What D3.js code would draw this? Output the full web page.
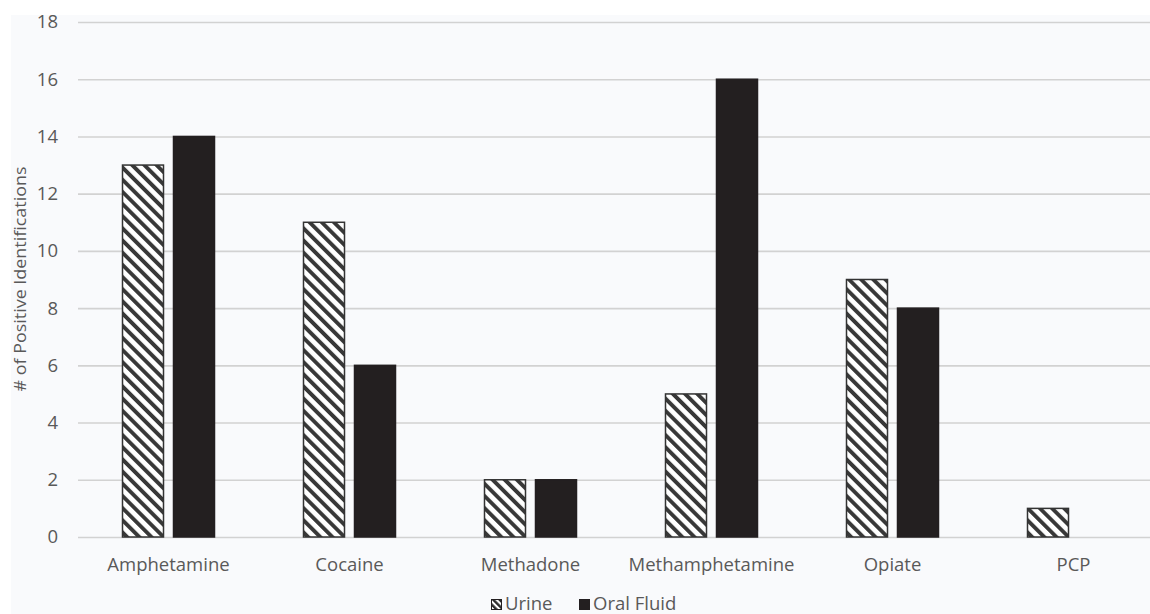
<!DOCTYPE html>
<html>
<head>
<meta charset="utf-8">
<script src="https://cdn.jsdelivr.net/npm/d3@7"></script>
<style>
  html, body { margin: 0; padding: 0; background: #ffffff; }
  svg { display: block; }
  text { font-family: "Open Sans", "Noto Sans", sans-serif; fill: #595959; }
</style>
</head>
<body>
<svg id="chart" width="1150" height="614"></svg>
<script>
// Drug classes and positive identification counts per specimen type
const categories = ["Amphetamine", "Cocaine", "Methadone", "Methamphetamine", "Opiate", "PCP"];
const seriesNames = ["Urine", "Oral Fluid"];
const urineValues = [13, 11, 2, 5, 9, 1];
const oralFluidValues = [14, 6, 2, 16, 8, 0];
const yTicks = [0, 2, 4, 6, 8, 10, 12, 14, 16, 18];
const yAxisTitle = "# of Positive Identifications";

const svg = d3.select("#chart");
const W = 1150, H = 614;

// hatch pattern for the urine series
const defs = svg.append("defs");
const hatch = defs.append("pattern")
  .attr("id", "hatch")
  .attr("patternUnits", "userSpaceOnUse")
  .attr("width", 8.6).attr("height", 8.6)
  .attr("patternTransform", "rotate(-45)");
hatch.append("rect").attr("width", 8.6).attr("height", 8.6).attr("fill", "#ffffff");
hatch.append("rect").attr("x", 0).attr("y", 0).attr("width", 3.9).attr("height", 8.6).attr("fill", "#383838");

const legendHatch = defs.append("pattern")
  .attr("id", "hatchSmall")
  .attr("patternUnits", "userSpaceOnUse")
  .attr("width", 4.5).attr("height", 4.5)
  .attr("patternTransform", "rotate(-45)");
legendHatch.append("rect").attr("width", 4.5).attr("height", 4.5).attr("fill", "#ffffff");
legendHatch.append("rect").attr("width", 2.4).attr("height", 4.5).attr("fill", "#2a2a2a");

// chart area background
svg.append("rect").attr("x", 11).attr("y", 15).attr("width", W - 11).attr("height", H - 15)
  .attr("fill", "#f9fafc");

const x0 = d3.scaleBand().domain(categories).range([78, 1164]).paddingInner(0.4917).paddingOuter(0.24585);
const x1 = d3.scaleBand().domain(seriesNames).range([0, x0.bandwidth()]).paddingInner(0.196);
const y = d3.scaleLinear().domain([0, 18]).range([537, 22]);

// gridlines + y labels
const yAxis = d3.axisLeft(y).tickValues(yTicks).tickSize(-(1164 - 78)).tickPadding(20);
const gY = svg.append("g").attr("transform", "translate(78,0)").call(yAxis);
gY.select(".domain").remove();
gY.selectAll(".tick line").attr("stroke", "#d2d2d2").attr("stroke-width", 1.6);
gY.selectAll(".tick text").attr("font-size", 18.5).style("fill", "#595959");

const rows = categories.map((c, i) => ({ cat: c, values: [urineValues[i], oralFluidValues[i]] }));

const groups = svg.append("g").selectAll("g").data(rows).join("g")
  .attr("transform", d => `translate(${x0(d.cat)},0)`);

groups.selectAll("rect").data(d => d.values.map((v, j) => ({ s: seriesNames[j], v })).filter(e => e.v > 0))
  .join("rect")
  .attr("x", d => x1(d.s))
  .attr("width", x1.bandwidth())
  .attr("y", d => y(d.v))
  .attr("height", d => y(0) - y(d.v))
  .attr("fill", d => d.s === "Urine" ? "url(#hatch)" : "#231f20")
  .attr("stroke", d => d.s === "Urine" ? "#333333" : "#231f20")
  .attr("stroke-width", 1.5);

// x category labels
const xAxis = d3.axisBottom(x0).tickSize(0).tickPadding(0);
const gX = svg.append("g").attr("transform", "translate(0,537)").call(xAxis);
gX.select(".domain").remove();
gX.selectAll(".tick text").attr("font-size", 18.5).attr("dy", null).attr("y", 34).style("fill", "#595959");

// y axis title
svg.append("text")
  .attr("transform", "translate(26,279) rotate(-90) scale(1.12,1)")
  .attr("text-anchor", "middle")
  .attr("font-size", 16)
  .text(yAxisTitle);

// legend
const legend = svg.append("g");
const legendItems = [
  { name: "Urine", x: 491, fill: "url(#hatchSmall)" },
  { name: "Oral Fluid", x: 579, fill: "#231f20" }
];
legendItems.forEach(it => {
  legend.append("rect").attr("x", it.x + 0.5).attr("y", 599.5).attr("width", 10).attr("height", 10)
    .attr("fill", it.fill).attr("stroke", "#231f20").attr("stroke-width", 1);
  legend.append("text").attr("x", it.x + 14).attr("y", 610).attr("font-size", 18.5).text(it.name);
});
</script>
</body>
</html>
